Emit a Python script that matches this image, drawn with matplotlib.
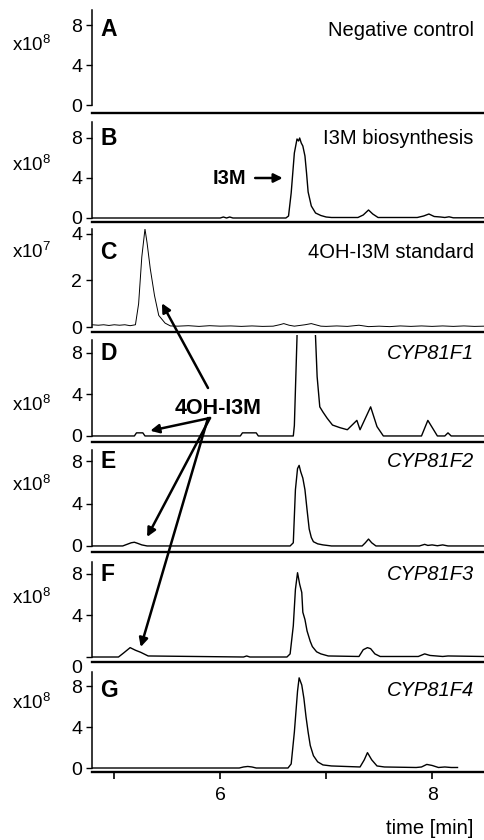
import matplotlib.pyplot as plt
from matplotlib.patches import ConnectionPatch

plt.rcParams['font.family'] = ['Liberation Sans', 'DejaVu Sans']
plt.rcParams['mathtext.fontset'] = 'custom'
plt.rcParams['mathtext.rm'] = 'Liberation Sans'

# TRACES: retention time [min] and intensity (x10^8, panel C x10^7)

i3m_t = [4.79, 6.00, 6.03, 6.06, 6.09, 6.12, 6.62, 6.645, 6.67, 6.70, 6.725, 6.74,
         6.75, 6.765, 6.78, 6.80, 6.815, 6.83, 6.86, 6.90, 6.95, 7.00, 7.05, 7.30,
         7.35, 7.40, 7.44, 7.49, 7.86, 7.92, 7.97, 8.02, 8.08, 8.12, 8.16, 8.20, 8.49]
i3m_y = [0, 0, 0.1, 0, 0.1, 0, 0, 0.2, 2.5, 6.5, 7.9, 7.7,
         8.0, 7.5, 7.2, 6.2, 4.5, 2.6, 1.2, 0.5, 0.25, 0.1, 0.05, 0.05,
         0.3, 0.8, 0.4, 0.05, 0.05, 0.2, 0.4, 0.15, 0.1, 0.05, 0.12, 0.02, 0.02]

std_t = [4.79, 4.85, 4.90, 4.95, 5.00, 5.05, 5.10, 5.15, 5.20, 5.23, 5.26, 5.29,
         5.31, 5.34, 5.38, 5.42, 5.48, 5.53, 5.60, 5.70, 5.80, 5.90, 6.00, 6.10,
         6.20, 6.30, 6.40, 6.50, 6.56, 6.60, 6.65, 6.70, 6.80, 6.86, 6.90, 6.95,
         7.00, 7.10, 7.20, 7.31, 7.40, 7.50, 7.60, 7.70, 7.80, 7.90, 8.00, 8.10,
         8.20, 8.30, 8.40, 8.49]
std_y = [0.1, 0.08, 0.1, 0.07, 0.1, 0.08, 0.1, 0.06, 0.1, 1.0, 3.0, 4.2,
         3.6, 2.5, 1.35, 0.5, 0.17, 0.05, 0.04, 0.06, 0.03, 0.06, 0.04, 0.05,
         0.03, 0.05, 0.03, 0.04, 0.1, 0.15, 0.08, 0.04, 0.1, 0.15, 0.1, 0.04,
         0.03, 0.05, 0.03, 0.08, 0.02, 0.04, 0.02, 0.05, 0.03, 0.05, 0.03, 0.05,
         0.03, 0.05, 0.03, 0.04]

f1_t = [4.79, 5.19, 5.21, 5.27, 5.29, 6.19, 6.21, 6.34, 6.36, 6.69, 6.70, 6.725,
        6.735, 6.87, 6.90, 6.915, 6.94, 6.97, 7.01, 7.06, 7.13, 7.20, 7.29, 7.32,
        7.42, 7.48, 7.54, 7.90, 7.96, 8.05, 8.12, 8.15, 8.18, 8.49]
f1_y = [0, 0, 0.3, 0.3, 0, 0, 0.3, 0.3, 0, 0, 1.0, 9.5,
        15, 15, 9.5, 5.7, 2.8, 2.3, 1.7, 1.05, 0.8, 0.6, 1.5, 0.6,
        2.8, 0.9, 0, 0, 1.5, 0, 0, 0.3, 0, 0]

f2_t = [4.79, 5.08, 5.12, 5.16, 5.19, 5.22, 5.26, 5.31, 6.66, 6.69, 6.71, 6.73,
        6.745, 6.76, 6.78, 6.80, 6.82, 6.84, 6.86, 6.88, 6.92, 6.97, 7.05, 7.34,
        7.37, 7.40, 7.43, 7.47, 7.88, 7.93, 7.96, 8.00, 8.05, 8.10, 8.15, 8.49]
f2_y = [0, 0, 0.15, 0.3, 0.35, 0.25, 0.1, 0, 0, 0.3, 5.3, 7.3,
        7.6, 7.0, 6.4, 5.3, 3.4, 1.6, 0.8, 0.4, 0.2, 0.1, 0, 0,
        0.3, 0.65, 0.3, 0, 0, 0.15, 0.05, 0.1, 0.02, 0.1, 0, 0]

f3_t = [4.79, 5.04, 5.09, 5.15, 5.20, 5.25, 5.32, 6.22, 6.25, 6.28, 6.63, 6.66,
        6.69, 6.71, 6.73, 6.75, 6.77, 6.78, 6.80, 6.82, 6.85, 6.87, 6.91, 6.95,
        7.02, 7.31, 7.35, 7.39, 7.42, 7.46, 7.51, 7.87, 7.93, 7.98, 8.04, 8.10,
        8.15, 8.49]
f3_y = [0, 0, 0.4, 0.9, 0.65, 0.45, 0.1, 0, 0.1, 0, 0, 0.3,
        3.0, 6.5, 8.1, 7.0, 6.2, 4.3, 3.6, 2.5, 1.5, 1.0, 0.5, 0.3,
        0.1, 0.05, 0.7, 0.9, 0.8, 0.3, 0.05, 0.05, 0.3, 0.15, 0.1, 0.05,
        0.1, 0.05]

f4_t = [4.79, 6.18, 6.22, 6.26, 6.30, 6.34, 6.64, 6.67, 6.70, 6.73, 6.745, 6.77,
        6.79, 6.81, 6.83, 6.85, 6.88, 6.92, 6.97, 7.05, 7.32, 7.36, 7.39, 7.43,
        7.48, 7.55, 7.85, 7.90, 7.95, 8.00, 8.06, 8.12, 8.18, 8.24]
f4_y = [0, 0, 0.1, 0.15, 0.1, 0, 0, 0.4, 3.5, 7.5, 8.8, 8.1,
        6.8, 5.0, 3.5, 2.2, 1.2, 0.6, 0.3, 0.2, 0.1, 0.8, 1.5, 0.8,
        0.2, 0.1, 0.05, 0.1, 0.35, 0.25, 0.05, 0.1, 0.05, 0.05]

letters = ['A', 'B', 'C', 'D', 'E', 'F', 'G']
titles = ['Negative control', 'I3M biosynthesis', '4OH-I3M standard',
          'CYP81F1', 'CYP81F2', 'CYP81F3', 'CYP81F4']
traces = [None, (i3m_t, i3m_y), (std_t, std_y), (f1_t, f1_y),
          (f2_t, f2_y), (f3_t, f3_y), (f4_t, f4_y)]
scales = ['x10$^8$', 'x10$^8$', 'x10$^7$', 'x10$^8$', 'x10$^8$', 'x10$^8$', 'x10$^8$']

# LAYOUT (pixels of the 484x840 picture)
W, H = 484, 840
tops = [10, 122, 229, 335, 450, 562, 672]
bottoms = [113, 222, 332, 442, 552, 662, 772]
ylims = [(-0.8, 9.5), (-0.4, 9.6), (-0.21, 4.2), (-0.58, 9.71),
         (-0.57, 9.05), (-0.48, 9.13), (-0.39, 9.37)]
spine_tops = [9.5, 9.6, 4.2, 9.2, 9.05, 9.13, 9.37]
label_y = [7.5, 7.9, 3.2, 7.95, 7.95, 7.9, 7.6]
scale_px = [45, 165, 252, 405, 485, 598, 703]

fig = plt.figure(figsize=(4.84, 8.40), dpi=100)
axes = []
for i in range(7):
    ax = fig.add_axes([92 / W, 1 - bottoms[i] / H, 392 / W,
                       (bottoms[i] - tops[i]) / H])
    ax.set_facecolor('none')
    if traces[i] is not None:
        lw = 0.7 if i == 2 else 1.0
        ax.plot(traces[i][0], traces[i][1], color='black', lw=lw)
    ax.set_xlim(4.79, 8.49)
    ax.set_ylim(*ylims[i])
    for s in ['top', 'right']:
        ax.spines[s].set_visible(False)
    ax.spines['left'].set_bounds(0, spine_tops[i])
    ax.spines['left'].set_linewidth(1.1)
    ax.spines['bottom'].set_linewidth(1.7)
    if i == 2:
        ax.set_yticks([0, 2, 4])
    else:
        ax.set_yticks([0, 4, 8])
    ax.tick_params(axis='y', direction='out', length=4, width=1.0,
                   labelsize=14, pad=3)
    if i == 5:
        ax.set_yticklabels(['', '4', '8'])
        ax.text(-0.026, -1.06, '0', transform=ax.get_yaxis_transform(),
                ha='right', va='center', fontsize=14)
    if i == 6:
        ax.set_xticks([5, 6, 7, 8])
        ax.set_xticklabels(['', '6', '', '8'])
        ax.tick_params(axis='x', direction='out', length=5, width=1.2,
                       labelsize=14, pad=6)
    else:
        ax.set_xticks([])
    ax.text(0.022, label_y[i], letters[i], transform=ax.get_yaxis_transform(),
            ha='left', va='center', fontsize=16.5, fontweight='bold')
    ax.text(0.974, label_y[i], titles[i], transform=ax.get_yaxis_transform(),
            ha='right', va='center', fontsize=14.5,
            style='italic' if i >= 3 else 'normal')
    fig.text(12 / W, 1 - scale_px[i] / H, scales[i], ha='left', va='center',
             fontsize=13.5)
    axes.append(ax)

fig.text(473 / W, 1 - 828 / H, 'time [min]', ha='right', va='center',
         fontsize=14.5)

# ANNOTATIONS

arrow_kw = dict(arrowstyle='-|>', lw=1.8, color='black', mutation_scale=13,
                shrinkA=0, shrinkB=0)

ax_b = axes[1]
ax_b.text(6.25, 4.0, 'I3M', ha='right', va='center', fontsize=14.5,
          fontweight='bold')
ax_b.annotate('', xy=(6.59, 4.0), xytext=(6.33, 4.0), arrowprops=arrow_kw)

fig.text(218 / W, 1 - 408 / H, '4OH-I3M', ha='center', va='center',
         fontsize=15.5, fontweight='bold')

targets = [(axes[2], 5.45, 1.02, 208, 388),
           (axes[3], 5.34, 0.5, 210, 418),
           (axes[4], 5.31, 0.85, 210, 418),
           (axes[5], 5.25, 0.96, 208, 418)]
for ax, tx, ty, sx, sy in targets:
    con = ConnectionPatch(xyA=(sx / W, 1 - sy / H), coordsA='figure fraction',
                          xyB=(tx, ty), coordsB=ax.transData, **arrow_kw)
    fig.add_artist(con)

fig.savefig('out.png', dpi=100)
